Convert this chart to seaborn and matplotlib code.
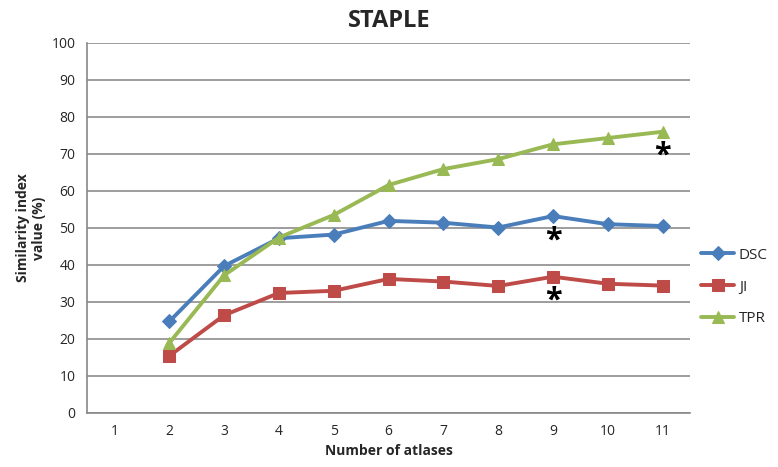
import numpy as np
import pandas as pd
import matplotlib
matplotlib.use('Agg')
import matplotlib.pyplot as plt
import seaborn as sns

n_atlases = list(range(1, 12))
dsc = [np.nan, 24.7, 39.7, 47.2, 48.2, 51.9, 51.4, 50.1, 53.2, 51.0, 50.5]
ji = [np.nan, 15.4, 26.4, 32.4, 33.0, 36.2, 35.5, 34.3, 36.8, 34.9, 34.4]
tpr = [np.nan, 18.9, 37.2, 47.4, 53.5, 61.6, 65.9, 68.6, 72.6, 74.3, 76.0]
# significance asterisks: (series, atlas count)
stars = [('DSC', 9), ('JI', 9), ('TPR', 11)]

sns.set_style('white')
plt.rcParams['font.family'] = ['Open Sans', 'DejaVu Sans']

df = pd.DataFrame({'atlases': n_atlases, 'DSC': dsc, 'JI': ji, 'TPR': tpr})
long = df.melt(id_vars='atlases', var_name='metric', value_name='value').dropna()

palette = {'DSC': '#4A7EBB', 'JI': '#BE4B48', 'TPR': '#98B954'}
markers = {'DSC': 'D', 'JI': 's', 'TPR': '^'}
msize = {'DSC': 7, 'JI': 9, 'TPR': 9}

fig = plt.figure(figsize=(7.78, 4.67), dpi=100)
ax = fig.add_axes([0.112, 0.116, 0.775, 0.792])

for name in ['DSC', 'JI', 'TPR']:
    sub = long[long['metric'] == name]
    sns.lineplot(data=sub, x='atlases', y='value', color=palette[name], marker=markers[name],
                 markersize=msize[name], markeredgecolor=palette[name], linewidth=2.8,
                 label=name, ax=ax)

vals = {'DSC': dsc, 'JI': ji, 'TPR': tpr}
for name, k in stars:
    y = vals[name][k - 1]
    ax.text(k, y - 2.5, '*', ha='center', va='top', fontsize=22, fontweight='bold', color='black')

ax.set_xlim(0.5, 11.5)
ax.set_ylim(0, 100)
ax.set_yticks(range(0, 101, 10))
ax.set_xticks(n_atlases)
ax.set_xticks(np.arange(0.5, 12, 1), minor=True)
ax.tick_params(axis='x', which='major', length=0, pad=8, labelsize=10)
ax.tick_params(axis='x', which='minor', length=5, color='#888888', direction='out')
ax.tick_params(axis='y', length=5, color='#888888', labelsize=10, direction='out')
ax.yaxis.grid(True, color='#8c8c8c', linewidth=1.2)
ax.set_axisbelow(True)
for s in ['top', 'right']:
    ax.spines[s].set_visible(False)
for s in ['left', 'bottom']:
    ax.spines[s].set_color('#888888')
    ax.spines[s].set_linewidth(1.2)

ax.set_xlabel('Number of atlases', fontweight='bold', fontsize=10)
ax.set_ylabel('Similarity index\nvalue (%)', fontweight='bold', fontsize=10)
fig.text(0.5, 0.955, 'STAPLE', ha='center', va='center', fontweight='bold', fontsize=17)

ax.legend(loc='center left', bbox_to_anchor=(1.0, 0.34), frameon=False, fontsize=11,
          handlelength=2.2, handletextpad=0.3, labelspacing=1.1, borderaxespad=0.3)

fig.savefig('out.png', dpi=100, facecolor='white')
